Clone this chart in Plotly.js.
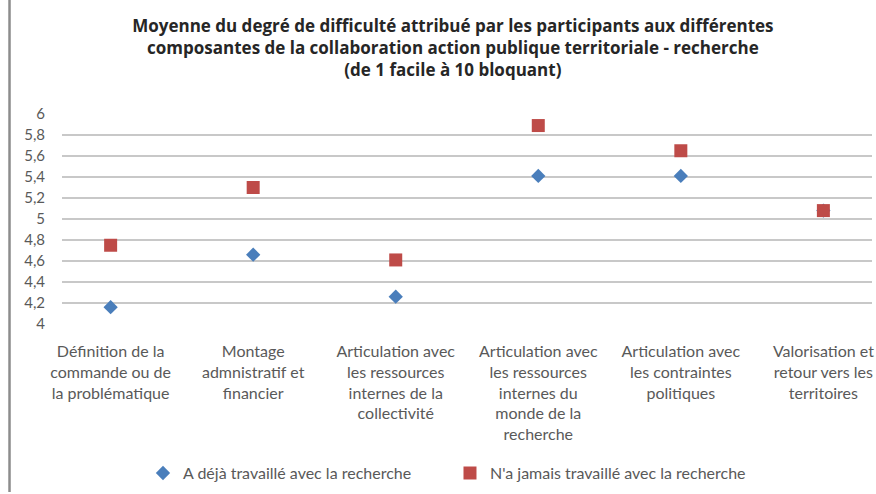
<!DOCTYPE html>
<html><head><meta charset="utf-8">
<script src="https://cdn.plot.ly/plotly-3.0.1.min.js"></script>
<style>html,body{margin:0;padding:0;background:#fff}#chart{width:876px;height:494px}</style>
</head><body><div id="chart"></div>
<script>
const categories = [
  "Définition de la<br>commande ou de<br>la problématique",
  "Montage<br>admnistratif et<br>financier",
  "Articulation avec<br>les ressources<br>internes de la<br>collectivité",
  "Articulation avec<br>les ressources<br>internes du<br>monde de la<br>recherche",
  "Articulation avec<br>les contraintes<br>politiques",
  "Valorisation et<br>retour vers les<br>territoires"
];
const dejaValues = [4.16, 4.66, 4.26, 5.41, 5.41, 5.08];
const jamaisValues = [4.75, 5.30, 4.61, 5.89, 5.65, 5.08];
const seriesNames = ["A déjà travaillé avec la recherche", "N'a jamais travaillé avec la recherche"];
const yTicks = [4, 4.2, 4.4, 4.6, 4.8, 5, 5.2, 5.4, 5.6, 5.8, 6];
const yTickLabels = ["4", "4,2", "4,4", "4,6", "4,8", "5", "5,2", "5,4", "5,6", "5,8", "6"];

const FONT = "Lato, 'Open Sans', sans-serif";
const data = [
  {x: categories, y: dejaValues, name: seriesNames[0], type: 'scatter', mode: 'markers',
   marker: {symbol: 'diamond', size: 11, color: '#4A7EBB'}},
  {x: categories, y: jamaisValues, name: seriesNames[1], type: 'scatter', mode: 'markers',
   marker: {symbol: 'square', size: 13, color: '#BE4B48'}}
];
const layout = {
  width: 876, height: 494,
  margin: {l: 62, r: 4, t: 114, b: 164},
  paper_bgcolor: '#fff', plot_bgcolor: '#fff',
  font: {family: FONT, color: '#595959', size: 16},
  title: {text: "<b>Moyenne du degré de difficulté attribué par les participants aux différentes<br>composantes de la collaboration action publique territoriale - recherche<br>(de 1 facile à 10 bloquant)</b>",
          font: {family: "'Open Sans', Lato, sans-serif", size: 17, color: '#262626'},
          x: 0.517, xanchor: 'center', xref: 'container', y: 0.935, yanchor: 'top', yref: 'container'},
  xaxis: {type: 'category', showgrid: false, showline: false, zeroline: false, ticks: '',
          tickfont: {size: 16, color: '#595959'}, tickangle: 0, automargin: false, ticklabelstandoff: 16},
  yaxis: {range: [4, 6], tickvals: yTicks, ticktext: yTickLabels, showgrid: true, gridcolor: '#C8C8C8',
          gridwidth: 1.5, zeroline: false, showline: false, ticks: '', tickfont: {size: 15, color: '#595959'},
          automargin: false, ticklabelstandoff: 16},
  showlegend: true,
  legend: {orientation: 'h', x: 0.479, xanchor: 'center', y: -0.71, yanchor: 'middle',
           font: {size: 16, color: '#595959'}, itemwidth: 30, entrywidth: 262},
  shapes: [
    {type: 'line', xref: 'paper', yref: 'paper', x0: -0.0648, x1: -0.0648, y0: -0.8, y1: 1.6,
     line: {color: '#8C8C8C', width: 2.5}}
  ]
};
Plotly.newPlot('chart', data, layout, {displayModeBar: false, staticPlot: true});
</script></body></html>
